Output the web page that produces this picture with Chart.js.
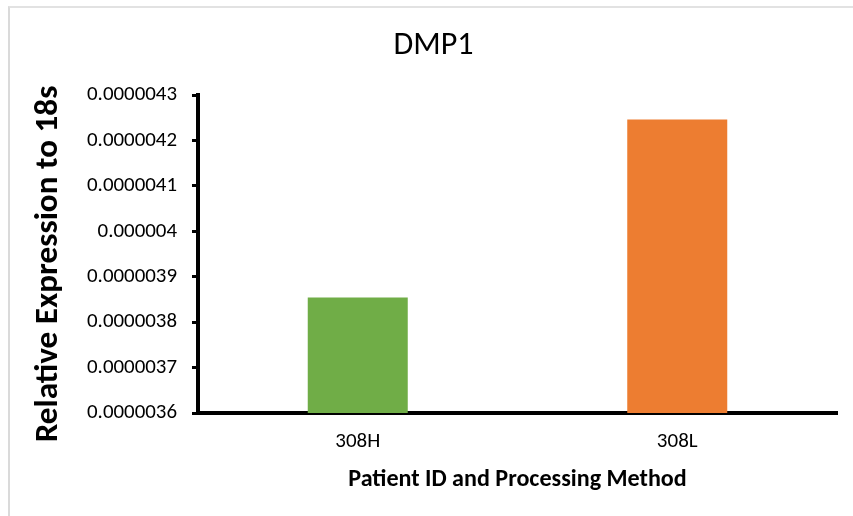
<!DOCTYPE html>
<html>
<head>
<meta charset="utf-8">
<script src="https://cdn.jsdelivr.net/npm/chart.js@4/dist/chart.umd.min.js"></script>
<style>
  html, body { margin: 0; padding: 0; background: #ffffff; }
  #wrap { position: relative; width: 853px; height: 516px; overflow: hidden; background: #ffffff; }
  #frame { position: absolute; left: 8px; top: 6px; width: 900px; height: 600px;
           border-left: 2px solid #dadada; border-top: 2px solid #e2e2e2; box-sizing: border-box; }
  #chart { position: absolute; left: 0; top: 0; }
</style>
</head>
<body>
<div id="wrap">
  <div id="frame"></div>
  <canvas id="chart" width="853" height="516"></canvas>
</div>
<script>
// Relative expression of DMP1 for each sample
const categories = ['308H', '308L'];
const expressionValues = [0.000003854, 0.000004246];
const barColors = ['#70AD47', '#ED7D31'];

// Y axis range and its printed tick labels
const yMin = 0.0000036;
const yMax = 0.0000043;
const yStep = 0.0000001;
const yTickLabels = ['0.0000036', '0.0000037', '0.0000038', '0.0000039',
                     '0.000004', '0.0000041', '0.0000042', '0.0000043'];

const chartTitle = 'DMP1';
const yAxisTitle = 'Relative Expression to 18s';
const xAxisTitle = 'Patient ID and Processing Method';

const FAMILY = 'Carlito, Lato, "Open Sans", sans-serif';

// Pick a font size so a string renders at the wanted width
const measureCtx = document.createElement('canvas').getContext('2d');
function fitSize(text, weight, width) {
  measureCtx.font = weight + ' 100px ' + FAMILY;
  const w = measureCtx.measureText(text).width;
  return Math.round(100 * width / w * 10) / 10;
}

const titleSize = fitSize(chartTitle, 'normal', 80);
const yTitleSize = fitSize(yAxisTitle, 'bold', 357);
const xTitleSize = fitSize(xAxisTitle, 'bold', 338);
const yTickSize = fitSize('0.0000043', 'normal', 90);
const xTickSize = fitSize('308H', 'normal', 45);

// Vertical y-axis title, centred a little below the middle of the plot
const yTitlePlugin = {
  id: 'yTitle',
  afterDraw(chart) {
    const { ctx, chartArea, scales } = chart;
    const cx = scales.y.left + yTitleSize / 2 + 2;
    const cy = (chartArea.top + chartArea.bottom) / 2 + 10;
    ctx.save();
    ctx.translate(cx, cy);
    ctx.rotate(-Math.PI / 2);
    ctx.font = 'bold ' + yTitleSize + 'px ' + FAMILY;
    ctx.fillStyle = '#000000';
    ctx.textAlign = 'center';
    ctx.textBaseline = 'middle';
    ctx.fillText(yAxisTitle, 0, 0);
    ctx.restore();
  }
};

new Chart(document.getElementById('chart'), {
  type: 'bar',
  data: {
    labels: categories,
    datasets: [{
      data: expressionValues,
      backgroundColor: barColors,
      borderWidth: 0,
      barPercentage: 0.313,
      categoryPercentage: 1
    }]
  },
  plugins: [yTitlePlugin],
  options: {
    responsive: false,
    animation: false,
    devicePixelRatio: 1,
    layout: { padding: { left: 30, right: 16, top: 0, bottom: 0 } },
    plugins: {
      legend: { display: false },
      tooltip: { enabled: false },
      title: {
        display: true,
        text: chartTitle,
        color: '#000000',
        font: { family: FAMILY, size: titleSize, weight: 'normal', lineHeight: 1.2 },
        padding: { top: 27, bottom: 95 - 27 - titleSize * 1.2 }
      }
    },
    scales: {
      x: {
        afterFit: (scale) => { scale.height = 103; },
        grid: { display: true, drawOnChartArea: false, drawTicks: false },
        border: { display: true, color: '#000000', width: 4 },
        ticks: {
          color: '#000000',
          padding: 16,
          font: { family: FAMILY, size: xTickSize }
        },
        title: {
          display: true,
          text: xAxisTitle,
          color: '#000000',
          font: { family: FAMILY, size: xTitleSize, weight: 'bold', lineHeight: 1.2 },
          padding: { top: 0, bottom: 22 }
        }
      },
      y: {
        min: yMin,
        max: yMax,
        afterFit: (scale) => { scale.width = 198 - 30; },
        grid: { display: true, drawOnChartArea: false, drawTicks: true,
                tickLength: 6, tickWidth: 3, tickColor: '#000000' },
        border: { display: true, color: '#000000', width: 4 },
        ticks: {
          stepSize: yStep,
          color: '#000000',
          padding: 15,
          font: { family: FAMILY, size: yTickSize },
          callback: (value, index) => yTickLabels[index]
        },
        title: { display: false }
      }
    }
  }
});
</script>
</body>
</html>
